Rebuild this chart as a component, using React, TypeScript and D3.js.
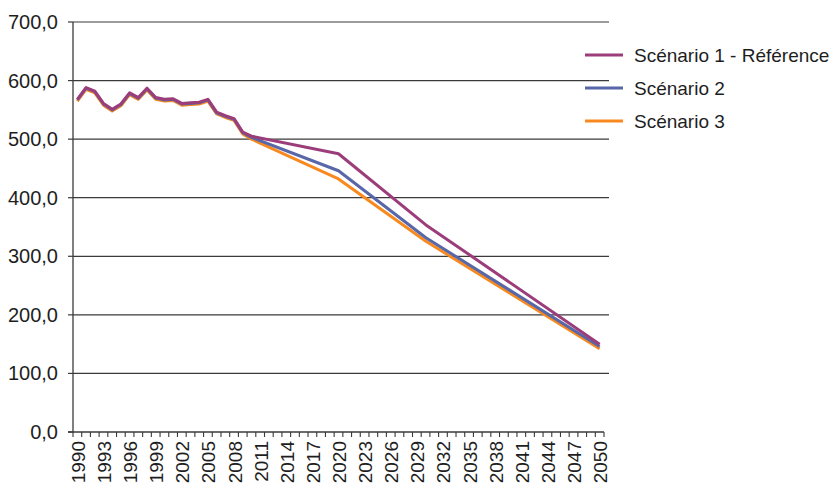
import React from "react";
import * as d3 from "d3";

const years: number[] = d3.range(1990, 2051);
const tickLabelYears: number[] = years.filter((y) => (y - 1990) % 3 === 0);
const yTicks: number[] = [0, 100, 200, 300, 400, 500, 600, 700];

const histYears: number[] = [1990, 1991, 1992, 1993, 1994, 1995, 1996, 1997, 1998, 1999, 2000, 2001, 2002, 2003, 2004, 2005, 2006, 2007, 2008, 2009, 2010];
const s1Hist: number[] = [568, 588, 582, 561, 551, 560, 579, 571, 587, 571, 568, 569, 561, 562, 563, 568, 546, 540, 535, 512, 505];
const s2Hist: number[] = [567, 587, 581, 560, 550, 559, 578, 570, 586, 570, 567, 568, 560, 561, 562, 567, 545, 539, 534, 511, 503];
const s3Hist: number[] = [565, 585, 579, 558, 548, 557, 576, 568, 584, 568, 565, 566, 558, 559, 560, 565, 543, 537, 532, 509, 500];

const projYears: number[] = [2020, 2030, 2050];
const s1Proj: number[] = [475, 354, 150];
const s2Proj: number[] = [446, 332, 146];
const s3Proj: number[] = [432, 326, 142];

const seriesNames: string[] = ["Scénario 1 - Référence", "Scénario 2", "Scénario 3"];
const seriesColors: string[] = ["#9c3d7b", "#5767a8", "#f7891f"];

const FONT = "'Liberation Sans', Arial, Helvetica, sans-serif";

export default function App() {
  const width = 835;
  const height = 485;
  const left = 73;
  const right = 604;
  const top = 22;
  const bottom = 432;

  const x = d3.scaleBand<number>().domain(years).range([left, right]).padding(0);
  const bw = x.bandwidth();
  const cx = (yr: number) => (x(yr) as number) + bw / 2;
  const y = d3.scaleLinear().domain([0, 700]).range([bottom, top]);

  const build = (hist: number[], proj: number[]) => {
    const pts: [number, number][] = [];
    histYears.forEach((yr, i) => pts.push([yr, hist[i]]));
    projYears.forEach((yr, i) => pts.push([yr, proj[i]]));
    return pts;
  };
  const series = [build(s1Hist, s1Proj), build(s2Hist, s2Proj), build(s3Hist, s3Proj)];
  const line = d3
    .line<[number, number]>()
    .x((d) => cx(d[0]))
    .y((d) => y(d[1]));

  const fmt = (v: number) => v.toFixed(1).replace(".", ",");
  const boundaries = [...years.map((yr) => x(yr) as number), right];

  return (
    <svg width={width} height={height} style={{ position: "absolute", left: 0, top: 0, background: "#fff" }} fontFamily={FONT}>
      {yTicks.filter((t) => t > 0).map((t) => (
        <line key={t} x1={left} x2={609} y1={y(t)} y2={y(t)} stroke="#3a3a3a" strokeWidth={1.2} />
      ))}
      <line x1={left} x2={left} y1={top} y2={bottom} stroke="#3a3a3a" strokeWidth={1.3} />
      {yTicks.map((t) => (
        <g key={t}>
          <line x1={left - 5} x2={left} y1={y(t)} y2={y(t)} stroke="#3a3a3a" strokeWidth={1.2} />
          <text x={58} y={y(t)} textAnchor="end" dominantBaseline="central" fontSize={20} fill="#1e1e1e">
            {fmt(t)}
          </text>
        </g>
      ))}
      <line x1={left - 5} x2={right} y1={bottom} y2={bottom} stroke="#3a3a3a" strokeWidth={1.3} />
      {boundaries.map((b, i) => (
        <line key={i} x1={b} x2={b} y1={bottom} y2={bottom + 5} stroke="#3a3a3a" strokeWidth={1.1} />
      ))}
      {tickLabelYears.map((yr) => (
        <text
          key={yr}
          transform={`translate(${cx(yr) + 1},${bottom + 9}) rotate(-90)`}
          textAnchor="end"
          dominantBaseline="central"
          fontSize={19}
          fill="#1e1e1e"
        >
          {yr}
        </text>
      ))}
      {[2, 1, 0].map((i) => (
        <path key={i} d={line(series[i]) as string} fill="none" stroke={seriesColors[i]} strokeWidth={3} strokeLinejoin="round" />
      ))}
      {seriesNames.map((n, i) => (
        <g key={n} transform={`translate(585,${55 + i * 33})`}>
          <line x1={0} x2={38} y1={0} y2={0} stroke={seriesColors[i]} strokeWidth={3} />
          <text x={49} y={0} dominantBaseline="central" fontSize={19} fill="#1e1e1e">
            {n}
          </text>
        </g>
      ))}
    </svg>
  );
}
